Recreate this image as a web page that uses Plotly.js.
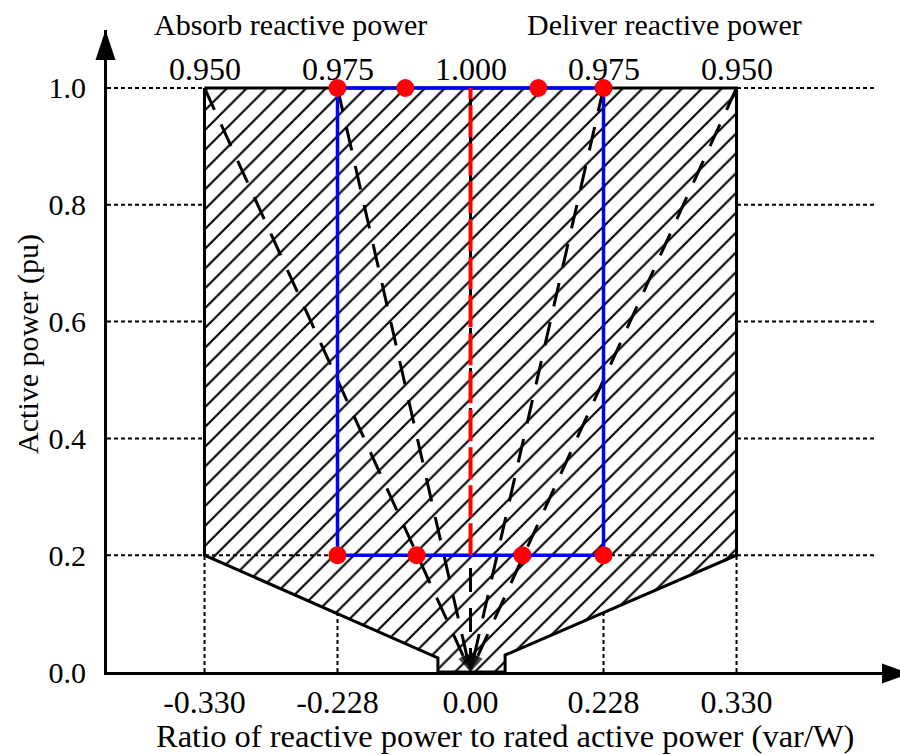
<!DOCTYPE html>
<html>
<head>
<meta charset="utf-8">
<script src="https://cdn.plot.ly/plotly-3.0.1.min.js"></script>
<style>html,body{margin:0;padding:0;background:#fff;}#chart{width:900px;height:755px;}</style>
</head>
<body>
<div id="chart"></div>
<script>
// ---- data (x in tick-index units: -2 -> -0.330, -1 -> -0.228, 0 -> 0.00, 1 -> 0.228, 2 -> 0.330) ----
const xTickVals = [-2, -1, 0, 1, 2];
const xTickText = ['-0.330', '-0.228', '0.00', '0.228', '0.330'];
const yTickVals = [0, 0.2, 0.4, 0.6, 0.8, 1.0];
const yTickText = ['0.0', '0.2', '0.4', '0.6', '0.8', '1.0'];
const pfLabels = ['0.950', '0.975', '1.000', '0.975', '0.950'];
const sideLabels = ['Absorb reactive power', 'Deliver reactive power'];
const sideLabelX = [-1.353, 1.462];

const regionX = [-2, 2, 2, 0.26, 0.26, -0.245, -0.245, -2, -2];
const regionY = [1, 1, 0.2, 0.029, 0, 0, 0.024, 0.2, 1];

const rectX = [-1, 1, 1, -1, -1];
const rectY = [1, 1, 0.2, 0.2, 1];

const dotX = [-1, -0.49, 0.51, 1, -1, -0.405, 0.39, 1];
const dotY = [1, 1, 1, 1, 0.2, 0.2, 0.2, 0.2];

const pfLineTopX = [-2, -1, 0, 1, 2];
const pfLineTopY = [1, 1, 1, 1, 1];
const originX = 0, originY = 0;

const unityX = [0, 0];
const unityY = [0.2, 1.0];

const gridY = [0.4, 0.6, 0.8, 1.0];
const gridY2 = [0.2];
const gridXEnd = 3.04;
const vGridX = [-2, -1, 1, 2];
const vGridTop = 0.2;

const xRange = [-2.733, 3.214];
const yRange = [0, 1.0993];

// ---- traces ----
const traces = [];
const dotted = {color: 'black', width: 2, dash: '4px,3px'};

gridY.forEach(v => traces.push({x: [xRange[0], gridXEnd], y: [v, v], mode: 'lines', line: dotted, hoverinfo: 'skip'}));
vGridX.forEach(v => traces.push({x: [v, v], y: [0, vGridTop], mode: 'lines', line: dotted, hoverinfo: 'skip'}));

traces.push({
  x: regionX, y: regionY, mode: 'lines', fill: 'toself', fillcolor: 'white',
  fillpattern: {shape: '/', fgcolor: 'black', bgcolor: 'white', size: 14, solidity: 0.15},
  line: {color: 'black', width: 3}, hoverinfo: 'skip'
});

gridY2.forEach(v => traces.push({x: [xRange[0], gridXEnd], y: [v, v], mode: 'lines', line: dotted, hoverinfo: 'skip'}));

// constant power-factor lines converging at origin
pfLineTopX.forEach((xt, i) => {
  traces.push({
    x: [xt, originX], y: [pfLineTopY[i], originY], mode: 'lines+markers',
    line: {color: 'black', width: 3, dash: '24px,16px'},
    marker: {symbol: 'arrow', angleref: 'previous', size: [0, 18], color: 'black', line: {width: 0}},
    hoverinfo: 'skip', cliponaxis: false
  });
});

traces.push({x: rectX, y: rectY, mode: 'lines', line: {color: '#0000FF', width: 3.5}, hoverinfo: 'skip'});
traces.push({x: unityX, y: unityY, mode: 'lines', line: {color: '#FF0000', width: 4, dash: '32px,6px'}, hoverinfo: 'skip'});
traces.push({x: dotX, y: dotY, mode: 'markers', marker: {color: '#FF0000', size: 18}, hoverinfo: 'skip', cliponaxis: false});

// ---- layout ----
const annotations = [];
pfLabels.forEach((t, i) => annotations.push({
  text: t, x: xTickVals[i], xref: 'x', y: 0.9393, yref: 'paper', showarrow: false,
  xanchor: 'center', yanchor: 'middle', font: {size: 32}
}));
sideLabels.forEach((t, i) => annotations.push({
  text: t, x: sideLabelX[i], xref: 'x', y: 1.0093, yref: 'paper', showarrow: false,
  xanchor: 'center', yanchor: 'middle', font: {size: 30}
}));
annotations.push({
  text: 'Ratio of reactive power to rated active power (var/W)', x: 0.5031, xref: 'paper',
  y: -0.1, yref: 'paper', showarrow: false, xanchor: 'center', yanchor: 'middle', font: {size: 32.5}
});
annotations.push({
  text: 'Active power (pu)', x: -0.0999, xref: 'paper', y: 0.511, yref: 'paper', textangle: -90,
  showarrow: false, xanchor: 'center', yanchor: 'middle', font: {size: 30}
});

const layout = {
  width: 900, height: 755,
  margin: {l: 107, r: 2, t: 30, b: 83, pad: 0},
  paper_bgcolor: 'white', plot_bgcolor: 'white',
  showlegend: false,
  font: {family: '"Liberation Serif", "Times New Roman", serif', size: 30, color: 'black'},
  xaxis: {
    range: xRange, tickvals: xTickVals, ticktext: xTickText, ticks: '',
    showgrid: false, zeroline: false, showline: true, linecolor: 'black', linewidth: 3,
    tickfont: {size: 32}, fixedrange: true
  },
  yaxis: {
    range: yRange, tickvals: yTickVals, ticktext: yTickText, ticks: '',
    showgrid: false, zeroline: false, showline: true, linecolor: 'black', linewidth: 3,
    tickfont: {size: 30}, ticklabelstandoff: 12, fixedrange: true
  },
  annotations: annotations,
  shapes: [
    {type: 'path', xref: 'paper', yref: 'paper', xsizemode: 'pixel', ysizemode: 'pixel',
     xanchor: 0, yanchor: 1, path: 'M -11.5 -30 L 8.5 -30 L -1.5 0 Z', fillcolor: 'black', line: {width: 0}},
    {type: 'path', xref: 'paper', yref: 'paper', xsizemode: 'pixel', ysizemode: 'pixel',
     xanchor: 1, yanchor: 0, path: 'M -16 -11.5 L -16 8.5 L 12 -1.5 Z', fillcolor: 'black', line: {width: 0}}
  ]
};

Plotly.newPlot('chart', traces, layout, {displayModeBar: false, staticPlot: true});
</script>
</body>
</html>
